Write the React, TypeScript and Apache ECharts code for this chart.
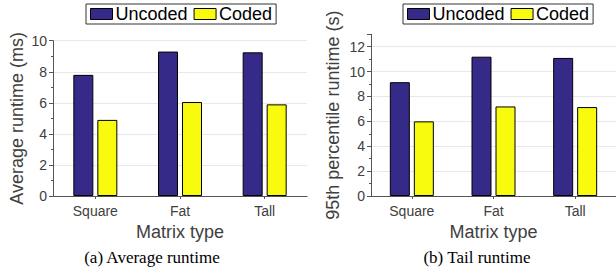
import React, { useEffect, useRef } from "react";
import * as echarts from "echarts";

const categories = ["Square", "Fat", "Tall"];
const seriesNames = ["Uncoded", "Coded"];
const avgUncoded = [7.8, 9.3, 9.25];
const avgCoded = [4.9, 6.05, 5.9];
const tailUncoded = [9.15, 11.2, 11.1];
const tailCoded = [6.0, 7.2, 7.15];
const avgAxis = { min: 0, max: 10, interval: 2 };
const tailAxis = { min: 0, max: 13, interval: 2 };
const yTitles = ["Average runtime (ms)", "95th percentile runtime (s)"];
const xTitle = "Matrix type";
const captions = ["(a) Average runtime", "(b) Tail runtime"];

const COLORS = ["#352A87", "#F9FB0E"];
const SANS = "Liberation Sans";
const GRAY = "#404040";

function yAxis(gridIndex: number, ax: { min: number; max: number; interval: number }, name: string, gap: number) {
  return {
    type: "value",
    gridIndex,
    min: ax.min,
    max: ax.max,
    interval: ax.interval,
    name,
    nameLocation: "middle",
    nameGap: gap,
    nameTextStyle: { fontFamily: SANS, fontSize: 18, color: GRAY },
    axisLine: { show: true, lineStyle: { color: "#555", width: 1 } },
    axisTick: { show: true, inside: false, length: 4, lineStyle: { color: "#555" } },
    minorTick: { show: true, splitNumber: 2, length: 2, lineStyle: { color: "#555" } },
    axisLabel: { fontFamily: SANS, fontSize: 14, color: GRAY, margin: 6, showMaxLabel: ax.max % ax.interval === 0 },
    splitLine: { show: true, showMaxLine: ax.max % ax.interval === 0, lineStyle: { color: "#e8e8e8", width: 1 } },
  };
}

function xAxis(gridIndex: number) {
  return {
    type: "category",
    gridIndex,
    data: categories,
    name: xTitle,
    nameLocation: "middle",
    nameGap: 21,
    nameTextStyle: { fontFamily: SANS, fontSize: 18, color: GRAY },
    axisLine: { show: true, lineStyle: { color: "#555", width: 1 } },
    axisTick: { show: true, alignWithLabel: true, length: 3, lineStyle: { color: "#555" } },
    axisLabel: { fontFamily: SANS, fontSize: 14, color: GRAY, margin: 8 },
    splitLine: { show: false },
  };
}

function bar(name: string, data: number[], idx: number, color: string) {
  return {
    type: "bar",
    name,
    xAxisIndex: idx,
    yAxisIndex: idx,
    data,
    barWidth: 20,
    barGap: "20%",
    itemStyle: { color, borderColor: "#000", borderWidth: 1 },
  };
}

function legend(left: number) {
  return {
    left,
    top: 4,
    orient: "horizontal",
    data: seriesNames,
    icon: "rect",
    itemWidth: 22,
    itemHeight: 11,
    itemGap: 6,
    padding: [1, 4, 1, 4],
    borderColor: "#333",
    borderWidth: 1,
    selectedMode: false,
    itemStyle: { borderColor: "#000", borderWidth: 1 },
    textStyle: { fontFamily: SANS, fontSize: 18, color: "#000", padding: [0, 0, 0, -2] },
  };
}

export default function App() {
  const ref = useRef<HTMLDivElement>(null);
  useEffect(() => {
    if (!ref.current) return;
    const chart = echarts.init(ref.current, undefined, { renderer: "svg" });
    chart.setOption({
      animation: false,
      backgroundColor: "#fff",
      grid: [
        { left: 53, top: 40.7, width: 254, height: 155.3 },
        { left: 371, top: 34.3, width: 253, height: 161.7 },
      ],
      legend: [legend(86), legend(403)],
      xAxis: [xAxis(0), xAxis(1)],
      yAxis: [yAxis(0, avgAxis, yTitles[0], 27), yAxis(1, tailAxis, yTitles[1], 29)],
      series: [
        bar(seriesNames[0], avgUncoded, 0, COLORS[0]),
        bar(seriesNames[1], avgCoded, 0, COLORS[1]),
        bar(seriesNames[0], tailUncoded, 1, COLORS[0]),
        bar(seriesNames[1], tailCoded, 1, COLORS[1]),
      ],
      graphic: [
        {
          type: "text",
          x: 152,
          y: 257,
          style: { text: captions[0], fontFamily: "Liberation Serif", fontSize: 17, fill: "#000", align: "center", verticalAlign: "middle" },
        },
        {
          type: "text",
          x: 477,
          y: 257,
          style: { text: captions[1], fontFamily: "Liberation Serif", fontSize: 17, fill: "#000", align: "center", verticalAlign: "middle" },
        },
      ],
    });
    return () => chart.dispose();
  }, []);
  return <div ref={ref} style={{ position: "absolute", left: 0, top: 0, width: 616, height: 275 }} />;
}
